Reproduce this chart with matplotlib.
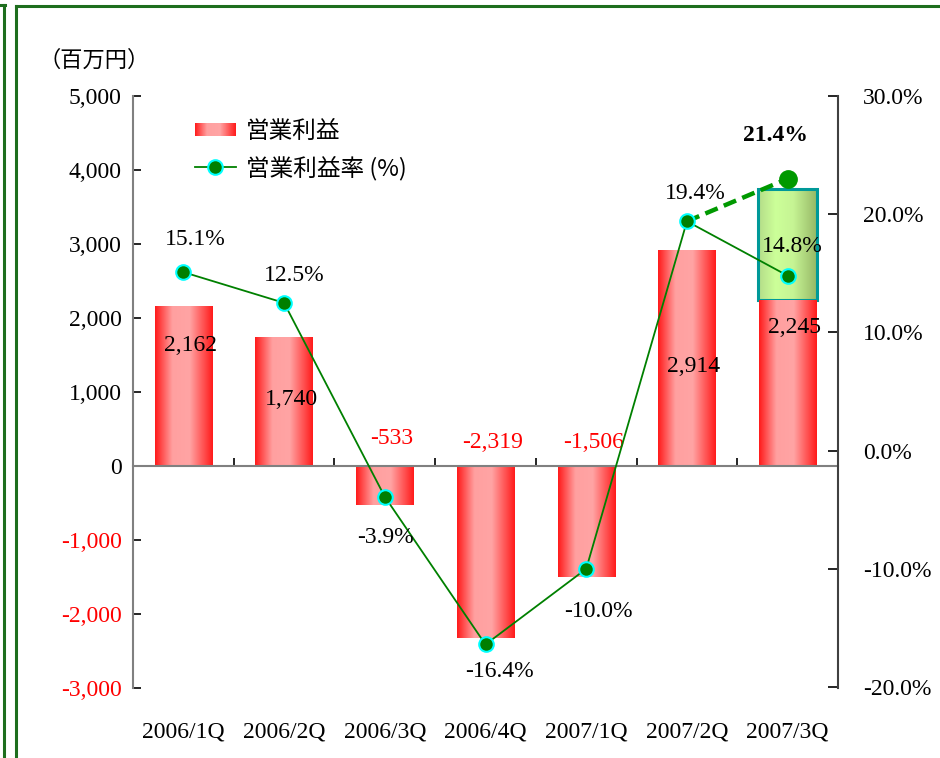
import numpy as np
import matplotlib
matplotlib.use('Agg')
import matplotlib.pyplot as plt
from matplotlib.patches import Rectangle
from matplotlib.lines import Line2D
from matplotlib.legend_handler import HandlerBase
from matplotlib.colors import LinearSegmentedColormap
from matplotlib.font_manager import FontProperties

plt.rcParams['font.family'] = ['Liberation Serif', 'Noto Sans CJK JP']
plt.rcParams['font.size'] = 17

JP = ['Noto Sans CJK JP', 'Liberation Serif']

# data
quarters = ['2006/1Q', '2006/2Q', '2006/3Q', '2006/4Q', '2007/1Q', '2007/2Q', '2007/3Q']
op_profit = [2162, 1740, -533, -2319, -1506, 2914, 2245]
op_margin = [15.1, 12.5, -3.9, -16.4, -10.0, 19.4, 14.8]
forecast_top = 3740          # top of the green box on 2007/3Q
forecast_margin = 23.0       # where the big marker sits in the picture
forecast_text = '21.4%'

left_ticks = [-3000, -2000, -1000, 0, 1000, 2000, 3000, 4000, 5000]
right_ticks = [-20, -10, 0, 10, 20, 30]

# label placement
profit_label_y = [1635, 892, 365, 324, 324, 1338, 1865]
margin_label_off = [(12, 33), (10, 27), (1, -41), (14, -27), (12, -43), (8, 28), (5, 29)]

red_cmap = LinearSegmentedColormap.from_list(
    'bar', [(0.0, '#ff1a1a'), (0.3, '#ffa0a0'), (0.6, '#ffa4a4'), (1.0, '#ff1a1a')])
green_cmap = LinearSegmentedColormap.from_list(
    'box', [(0.0, '#b4dc88'), (0.3, '#ccff99'), (0.6, '#c6f494'), (1.0, '#96b866')])


def fill_gradient(ax, patch, cmap, z):
    grad = np.linspace(0, 1, 256).reshape(1, -1)
    x0, w = patch.get_x(), patch.get_width()
    y0, h = patch.get_y(), patch.get_height()
    im = ax.imshow(grad, cmap=cmap, extent=[x0, x0 + w, min(y0, y0 + h), max(y0, y0 + h)],
                   aspect='auto', zorder=z, interpolation='bilinear')
    im.set_clip_path(patch)


class GradientHandler(HandlerBase):
    def __init__(self, cmap, n=40):
        super().__init__()
        self.cmap = cmap
        self.n = n

    def create_artists(self, legend, orig_handle, xdescent, ydescent, width, height, fontsize, trans):
        arts = []
        h = height * 0.75
        y0 = -ydescent + (height - h) / 2
        for k in range(self.n):
            r = Rectangle((-xdescent + width * k / self.n, y0), width / self.n * 1.1, h,
                          facecolor=self.cmap((k + 0.5) / self.n), edgecolor='none', transform=trans)
            arts.append(r)
        return arts


fig = plt.figure(figsize=(9.4, 7.58), dpi=100)
ax = fig.add_axes([133 / 940, 70 / 758, 705 / 940, 592 / 758])
ax2 = ax.twinx()

x = np.arange(len(quarters))

# forecast box (green) behind the red bar
box = ax.bar(x[-1], forecast_top - op_profit[-1], bottom=op_profit[-1], width=0.58,
             facecolor='none', edgecolor='#009999', linewidth=2.2, zorder=3)[0]
fill_gradient(ax, box, green_cmap, 2)

bars = ax.bar(x, op_profit, width=0.57, facecolor='none', edgecolor='none', zorder=4)
for b in bars:
    fill_gradient(ax, b, red_cmap, 4)

for i, v in enumerate(op_profit):
    ax.annotate(f'{v:,}', xy=(x[i], profit_label_y[i]), xytext=(7, 0), textcoords='offset pixels',
                ha='center', va='center', fontsize=17,
                color='#ff0000' if v < 0 else 'black', zorder=6)

ax.set_xlim(-0.5, len(quarters) - 0.5)
ax.set_ylim(-3000, 5000)
ax.set_yticks(left_ticks, labels=[f'{v:,}' for v in left_ticks])
for lab, v in zip(ax.get_yticklabels(), left_ticks):
    lab.set_color('#ff0000' if v < 0 else 'black')
ax.tick_params(axis='y', direction='in', length=6, width=1.2, pad=8, labelsize=17, color='black')

ax.spines['top'].set_visible(False)
ax.spines['right'].set_visible(False)
ax.spines['left'].set_color('#808080')
ax.spines['left'].set_linewidth(1.5)
ax.spines['bottom'].set_position(('data', 0))
ax.spines['bottom'].set_color('#808080')
ax.spines['bottom'].set_linewidth(1.5)
ax.spines['bottom'].set_zorder(5)
ax.set_xticks(x[:-1] + 0.5, labels=[])
ax.tick_params(axis='x', direction='in', length=6, width=1.2, color='black')

sec = ax.secondary_xaxis('bottom')
sec.set_xticks(x, labels=quarters)
sec.tick_params(length=0, pad=24, labelsize=17)
sec.spines['bottom'].set_visible(False)

# margin line
ax2.plot(x, op_margin, color='#008000', linewidth=1.3, marker='o', markersize=10.5,
         markerfacecolor='#007f00', markeredgecolor='#00ffff', markeredgewidth=1.5, zorder=5)
ax2.plot([x[-2], x[-1]], [op_margin[-2], forecast_margin], color='#009900', linewidth=3.2,
         dashes=(3.0, 1.5), zorder=4)
ax2.plot(x[-1], forecast_margin, 'o', markersize=12.5, color='#009900', zorder=6)

for i, v in enumerate(op_margin):
    ax2.annotate(f'{v:.1f}%', xy=(x[i], v), xytext=margin_label_off[i], textcoords='offset pixels',
                 ha='center', va='center', fontsize=17, zorder=7)
ax2.annotate(forecast_text, xy=(x[-1], forecast_margin), xytext=(-12, 43), textcoords='offset pixels',
             ha='center', va='center', fontsize=17, fontweight='bold')

ax2.set_ylim(-20.08, 30.0)
ax2.set_yticks(right_ticks, labels=[f'{v:.1f}%' for v in right_ticks])
ax2.tick_params(axis='y', direction='in', length=7, width=1.2, pad=18, labelsize=17)
for s in ['top', 'left', 'bottom']:
    ax2.spines[s].set_visible(False)
ax2.spines['right'].set_color('#404040')
ax2.spines['right'].set_linewidth(1.5)

# legend
bar_proxy = Rectangle((0, 0), 1, 1)
line_proxy = Line2D([], [], color='#008000', linewidth=1.3, marker='o', markersize=10.5,
                    markerfacecolor='#007f00', markeredgecolor='#00ffff', markeredgewidth=1.5)
ax2.legend([bar_proxy, line_proxy], ['営業利益', '営業利益率 (%)'],
           handler_map={bar_proxy: GradientHandler(red_cmap)},
           loc='upper left', bbox_to_anchor=(183 / 940, 1 - 108 / 758), bbox_transform=fig.transFigure,
           frameon=False, borderpad=0, handlelength=1.75, handletextpad=0.4, labelspacing=0.55,
           prop=FontProperties(family=JP, size=17))

fig.text(38 / 940, 1 - 60 / 758, '（百万円）', family=JP, fontsize=16, va='center', ha='left')

# green frame on the slide
g = '#1e6e1e'
fig.add_artist(Line2D([4 / 940, 4 / 940], [0, 1 - 5 / 758], transform=fig.transFigure, color=g, lw=2.2))
fig.add_artist(Line2D([16 / 940, 16 / 940], [0, 1 - 6 / 758], transform=fig.transFigure, color=g, lw=2.2))
fig.add_artist(Line2D([16 / 940, 1], [1 - 6 / 758, 1 - 6 / 758], transform=fig.transFigure, color=g, lw=2.2))
fig.add_artist(Line2D([0, 5 / 940], [1 - 5 / 758, 1 - 5 / 758], transform=fig.transFigure, color=g, lw=2.2))

fig.savefig('out.png', dpi=100)
